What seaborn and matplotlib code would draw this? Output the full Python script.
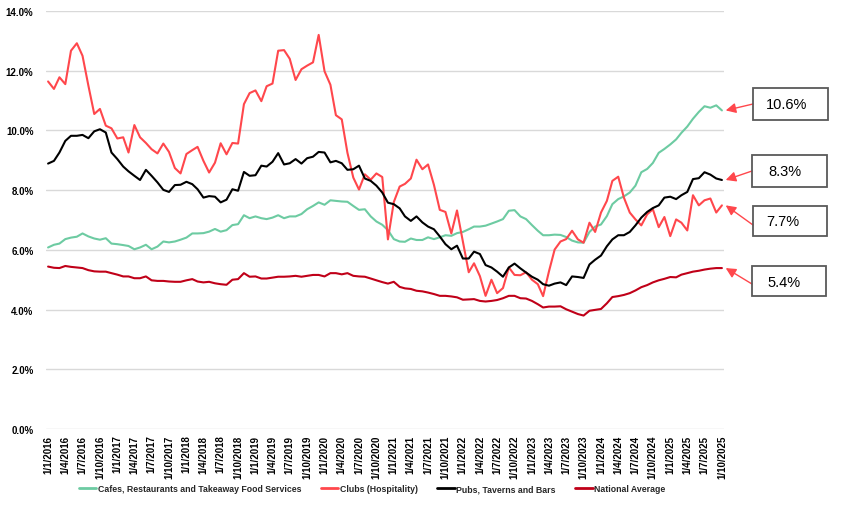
import matplotlib
matplotlib.use("Agg")
import numpy as np
import pandas as pd
import matplotlib.pyplot as plt
import seaborn as sns
from matplotlib import font_manager
from matplotlib.patches import Rectangle
from matplotlib.ticker import FuncFormatter

# monthly series, Jan 2016 .. Oct 2025 (percent)
months = pd.date_range("2016-01-01", periods=118, freq="MS")

cafes = [6.08, 6.17, 6.21, 6.36, 6.41, 6.44, 6.55, 6.45, 6.38, 6.34, 6.39, 6.21,
         6.19, 6.16, 6.13, 6.02, 6.08, 6.17, 6.02, 6.11, 6.28, 6.25, 6.28, 6.34,
         6.41, 6.55, 6.55, 6.56, 6.61, 6.70, 6.61, 6.66, 6.83, 6.86, 7.16, 7.06,
         7.12, 7.06, 7.03, 7.08, 7.16, 7.06, 7.12, 7.12, 7.20, 7.36, 7.47, 7.59,
         7.51, 7.66, 7.64, 7.62, 7.61, 7.47, 7.34, 7.36, 7.12, 6.95, 6.84, 6.66,
         6.36, 6.28, 6.27, 6.38, 6.33, 6.33, 6.42, 6.36, 6.42, 6.49, 6.47, 6.56,
         6.60, 6.69, 6.78, 6.78, 6.81, 6.88, 6.95, 7.03, 7.31, 7.33, 7.12, 7.03,
         6.83, 6.64, 6.49, 6.49, 6.51, 6.50, 6.43, 6.31, 6.25, 6.24, 6.60, 6.78,
         6.85, 7.13, 7.53, 7.70, 7.79, 7.92, 8.15, 8.60, 8.71, 8.91, 9.25, 9.38,
         9.53, 9.70, 9.92, 10.13, 10.39, 10.62, 10.81, 10.76, 10.84, 10.67]

clubs = [11.64, 11.39, 11.78, 11.55, 12.67, 12.92, 12.50, 11.50, 10.55, 10.72, 10.16, 10.07,
         9.73, 9.77, 9.26, 10.18, 9.77, 9.58, 9.37, 9.23, 9.56, 9.28, 8.74, 8.56,
         9.21, 9.34, 9.45, 8.98, 8.59, 8.92, 9.57, 9.20, 9.58, 9.56, 10.88, 11.25,
         11.34, 10.98, 11.48, 11.57, 12.67, 12.69, 12.40, 11.69, 12.05, 12.17, 12.28, 13.20,
         11.98, 11.53, 10.51, 10.37, 9.25, 8.42, 8.02, 8.53, 8.35, 8.56, 8.44, 6.35,
         7.60, 8.12, 8.21, 8.39, 9.02, 8.70, 8.86, 8.18, 7.34, 7.27, 6.55, 7.32,
         6.28, 5.25, 5.55, 5.12, 4.46, 5.00, 4.55, 4.72, 5.41, 5.16, 5.15, 5.25,
         5.00, 4.85, 4.45, 5.28, 6.01, 6.28, 6.36, 6.64, 6.35, 6.24, 6.91, 6.60,
         7.25, 7.64, 8.31, 8.45, 7.75, 7.25, 7.02, 6.82, 7.19, 7.36, 6.76, 7.10,
         6.46, 7.02, 6.91, 6.65, 7.83, 7.49, 7.66, 7.72, 7.25, 7.49]

pubs = [8.89, 8.98, 9.26, 9.65, 9.82, 9.82, 9.85, 9.74, 9.97, 10.04, 9.93, 9.26,
        9.04, 8.79, 8.63, 8.48, 8.34, 8.68, 8.48, 8.26, 8.01, 7.94, 8.17, 8.18,
        8.28, 8.20, 8.03, 7.75, 7.80, 7.78, 7.59, 7.68, 8.03, 7.98, 8.61, 8.48,
        8.50, 8.82, 8.79, 8.95, 9.24, 8.86, 8.90, 9.04, 8.89, 9.07, 9.12, 9.28,
        9.26, 8.93, 8.98, 8.90, 8.68, 8.70, 8.82, 8.39, 8.31, 8.15, 7.92, 7.58,
        7.53, 7.39, 7.12, 6.97, 7.12, 6.92, 6.78, 6.69, 6.45, 6.19, 6.02, 6.14,
        5.71, 5.71, 5.94, 5.86, 5.49, 5.41, 5.27, 5.10, 5.41, 5.54, 5.38, 5.24,
        5.10, 5.00, 4.85, 4.80, 4.87, 4.91, 4.82, 5.11, 5.09, 5.06, 5.51, 5.67,
        5.81, 6.12, 6.35, 6.49, 6.49, 6.60, 6.82, 7.08, 7.27, 7.40, 7.49, 7.75,
        7.78, 7.70, 7.83, 7.94, 8.37, 8.40, 8.60, 8.52, 8.39, 8.34]

national = [5.44, 5.40, 5.39, 5.46, 5.43, 5.41, 5.39, 5.32, 5.28, 5.27, 5.27, 5.22,
            5.17, 5.11, 5.11, 5.05, 5.05, 5.11, 4.98, 4.96, 4.96, 4.94, 4.93, 4.93,
            4.98, 5.02, 4.94, 4.91, 4.93, 4.88, 4.85, 4.83, 5.00, 5.02, 5.22, 5.10,
            5.11, 5.04, 5.04, 5.07, 5.10, 5.10, 5.11, 5.13, 5.10, 5.13, 5.16, 5.16,
            5.11, 5.22, 5.22, 5.18, 5.22, 5.13, 5.11, 5.10, 5.04, 4.98, 4.92, 4.87,
            4.93, 4.76, 4.71, 4.69, 4.63, 4.61, 4.57, 4.52, 4.46, 4.46, 4.44, 4.41,
            4.33, 4.34, 4.35, 4.29, 4.27, 4.29, 4.32, 4.38, 4.46, 4.46, 4.38, 4.37,
            4.29, 4.18, 4.07, 4.10, 4.10, 4.11, 4.01, 3.93, 3.85, 3.80, 3.96, 3.99,
            4.02, 4.21, 4.42, 4.45, 4.49, 4.55, 4.64, 4.75, 4.82, 4.91, 4.98, 5.03,
            5.09, 5.08, 5.17, 5.22, 5.27, 5.30, 5.34, 5.37, 5.39, 5.39]

series_names = ["Cafes, Restaurants and Takeaway Food Services", "Clubs (Hospitality)",
                "Pubs, Taverns and Bars", "National Average"]
callouts = ["10.6%", "8.3%", "7.7%", "5.4%"]

colors = ["#6DCBA2", "#FF474C", "#000000", "#C00018"]

df = pd.DataFrame({"month": months, series_names[0]: cafes, series_names[1]: clubs,
                   series_names[2]: pubs, series_names[3]: national})
long = df.melt(id_vars="month", var_name="series", value_name="rate")

sns.set_theme(style="white")
installed = {f.name for f in font_manager.fontManager.ttflist}
narrow = "Liberation Sans Narrow" if "Liberation Sans Narrow" in installed else "Liberation Sans"
plt.rcParams["font.family"] = [narrow, "DejaVu Sans"]

fig = plt.figure(figsize=(8.44, 5.10), dpi=100)
ax = fig.add_axes([46 / 844, 1 - 430 / 510, (724 - 46) / 844, (430 - 12) / 510])

sns.lineplot(data=long, x="month", y="rate", hue="series", hue_order=series_names,
             palette=colors, linewidth=1.5, ax=ax, legend=False)

ax.set_ylim(0, 14)
ax.set_yticks(np.arange(0, 15, 2))
ax.yaxis.set_major_formatter(FuncFormatter(lambda v, p: f"{v:.1f}%"))
ax.set_xlim(months[0] - pd.Timedelta(days=11), months[-1] + pd.Timedelta(days=11))
tick_months = months[::3]
ax.set_xticks(tick_months)
ax.set_xticklabels([f"1/{m.month}/{m.year}" for m in tick_months], rotation=90)
ax.set_xlabel("")
ax.set_ylabel("")
ax.grid(axis="y", color="#d9d9d9", linewidth=1)
ax.grid(axis="x", visible=False)
for s in ax.spines.values():
    s.set_visible(False)
ax.tick_params(axis="both", length=0, labelsize=7, colors="#000000")
ax.tick_params(axis="y", pad=9)
ax.tick_params(axis="x", pad=4)
for lab in ax.get_xticklabels() + ax.get_yticklabels():
    lab.set_fontweight("bold")

handles = [plt.Line2D([], [], color=c, lw=2) for c in colors]
fig.legend(handles, series_names, loc="center", bbox_to_anchor=(372 / 844, 1 - 490 / 510),
           ncol=4, frameon=False, handlelength=2.0, handletextpad=0.2, columnspacing=2.2,
           prop={"family": [narrow, "DejaVu Sans"], "weight": "bold", "size": 6.3})

# callout boxes on the right (figure pixels, measured from top)
boxes = [(753, 89, 75, 32), (752, 156, 75, 32), (753, 207, 74, 30), (752, 267, 74, 30)]
text_pos = [(787, 105), (785, 172), (783, 222), (784, 283)]
tails = [(753, 105), (752, 172), (753, 226), (752, 285)]
last_vals = [cafes[-1], pubs[-1], clubs[-1], national[-1]]
for (bx, by, bw, bh), (tx, ty), (ax0, ay0), val, lab in zip(boxes, text_pos, tails, last_vals, callouts):
    fig.add_artist(Rectangle((bx / 844, 1 - (by + bh) / 510), bw / 844, bh / 510,
                             transform=fig.transFigure, fill=False, edgecolor="#595959", lw=1.3))
    fig.text(tx / 844, 1 - ty / 510, lab, ha="center", va="center", fontsize=10.5,
             family=["Liberation Sans", "DejaVu Sans"], color="#000000")
    ax.annotate("", xy=(months[-1] + pd.Timedelta(days=20), val), xycoords="data",
                xytext=(ax0, 510 - ay0), textcoords="figure pixels",
                arrowprops=dict(arrowstyle="-|>", color="#FF474C", lw=1, mutation_scale=15,
                                shrinkA=0, shrinkB=0),
                annotation_clip=False)

fig.savefig("out.png", dpi=100, facecolor="white")
